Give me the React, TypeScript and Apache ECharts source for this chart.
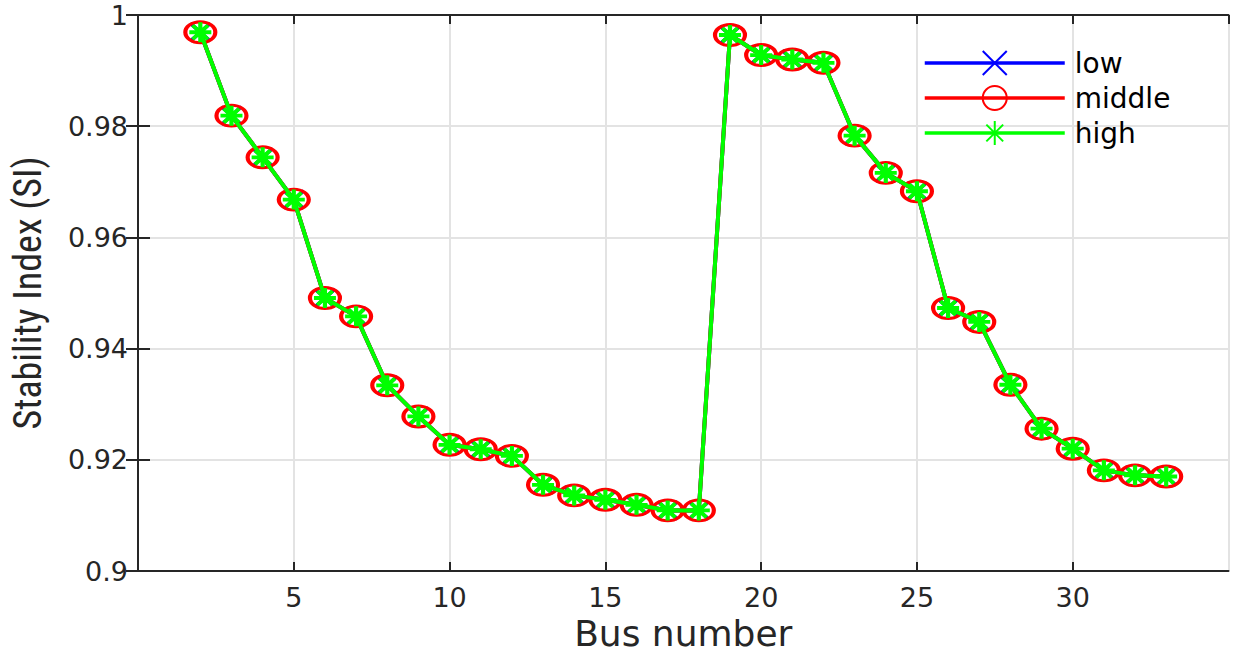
import React, { useEffect, useRef } from "react";
import * as echarts from "echarts";

const busNumbers = [2, 3, 4, 5, 6, 7, 8, 9, 10, 11, 12, 13, 14, 15, 16, 17, 18, 19, 20, 21, 22, 23, 24, 25, 26, 27, 28, 29, 30, 31, 32, 33];

const lowValues = [0.9969, 0.9819, 0.9744, 0.9668, 0.9491, 0.9458, 0.9334, 0.9278, 0.9227, 0.9219, 0.9207, 0.9155, 0.9136, 0.9128, 0.9119, 0.9109, 0.9109, 0.9964, 0.9928, 0.992, 0.9914, 0.9783, 0.9716, 0.9683, 0.9473, 0.9448, 0.9335, 0.9256, 0.922, 0.9181, 0.9172, 0.917];
const middleValues = [0.9969, 0.9819, 0.9744, 0.9668, 0.9491, 0.9458, 0.9334, 0.9278, 0.9227, 0.9219, 0.9207, 0.9155, 0.9136, 0.9128, 0.9119, 0.9109, 0.9109, 0.9964, 0.9928, 0.992, 0.9914, 0.9783, 0.9716, 0.9683, 0.9473, 0.9448, 0.9335, 0.9256, 0.922, 0.9181, 0.9172, 0.917];
const highValues = [0.9969, 0.9819, 0.9744, 0.9668, 0.9491, 0.9458, 0.9334, 0.9278, 0.9227, 0.9219, 0.9207, 0.9155, 0.9136, 0.9128, 0.9119, 0.9109, 0.9109, 0.9964, 0.9928, 0.992, 0.9914, 0.9783, 0.9716, 0.9683, 0.9473, 0.9448, 0.9335, 0.9256, 0.922, 0.9181, 0.9172, 0.917];

const seriesNames = ["low", "middle", "high"];
const xTitle = "Bus number";
const yTitle = "Stability Index (SI)";

const AXIS_COLOR = "#262626";
const GRID_COLOR = "#e3e3e3";
const TICK_FONT = "'DejaVu Sans', sans-serif";

const xMarker = "path://M0,0 L20,20 M0,20 L20,0";
const ellipseMarker = "path://M0,10 A15,10 0 1,1 30,10 A15,10 0 1,1 0,10 Z";
const starMarker = "path://M0,10 L20,10 M10,0 L10,20 M3,3 L17,17 M3,17 L17,3";

function pairs(values: number[]) {
  return busNumbers.map((b, i) => [b, values[i]]);
}

export default function App() {
  const ref = useRef<HTMLDivElement>(null);

  useEffect(() => {
    if (!ref.current) return;
    const chart = echarts.init(ref.current, null, { renderer: "svg" });

    const axisLine = { show: true, lineStyle: { color: AXIS_COLOR, width: 2 } };

    chart.setOption({
      animation: false,
      backgroundColor: "#ffffff",
      grid: {
        left: 138,
        top: 15,
        right: 5.5,
        bottom: 83,
        containLabel: false,
        outerBoundsMode: "none",
      },
      legend: {
        orient: "vertical",
        left: 923,
        top: 49,
        padding: 0,
        itemWidth: 140,
        itemHeight: 30,
        itemGap: 7,
        data: seriesNames,
        lineStyle: { width: 3.5 },
        textStyle: { fontFamily: TICK_FONT, fontSize: 28, color: "#000000", padding: [0, 0, 0, 5] },
      },
      xAxis: [
        {
          type: "value",
          min: 0,
          max: 35,
          interval: 5,
          position: "bottom",
          axisLine,
          axisTick: { show: true, inside: true, length: 9, lineStyle: { color: AXIS_COLOR, width: 2 } },
          axisLabel: {
            fontFamily: TICK_FONT,
            fontSize: 27,
            color: AXIS_COLOR,
            margin: 13,
            showMinLabel: false,
            showMaxLabel: false,
          },
          splitLine: { show: true, lineStyle: { color: GRID_COLOR, width: 2 } },
          name: xTitle,
          nameLocation: "middle",
          nameGap: 44,
          nameTextStyle: { fontFamily: TICK_FONT, fontSize: 36, color: AXIS_COLOR },
        },
        {
          type: "value",
          min: 0,
          max: 35,
          interval: 5,
          position: "top",
          axisLine,
          axisTick: { show: true, inside: true, length: 9, lineStyle: { color: AXIS_COLOR, width: 2 } },
          axisLabel: { show: false },
          splitLine: { show: false },
        },
      ],
      yAxis: [
        {
          type: "value",
          min: 0.9,
          max: 1,
          interval: 0.02,
          position: "left",
          axisLine,
          axisTick: { show: true, inside: true, length: 12, lineStyle: { color: AXIS_COLOR, width: 2 } },
          axisLabel: {
            fontFamily: TICK_FONT,
            fontSize: 27,
            color: AXIS_COLOR,
            margin: 10,
            formatter: (v: number) => String(Number(v.toFixed(2))),
          },
          splitLine: { show: true, lineStyle: { color: GRID_COLOR, width: 2 } },
          name: yTitle,
          nameLocation: "middle",
          nameGap: 91,
          nameTextStyle: {
            fontFamily: "'Liberation Sans Narrow', 'Roboto Condensed', 'Liberation Sans', sans-serif",
            fontSize: 38,
            color: AXIS_COLOR,
          },
        },
        {
          type: "value",
          min: 0.9,
          max: 1,
          interval: 0.02,
          position: "right",
          axisLine,
          axisTick: { show: true, inside: true, length: 12, lineStyle: { color: AXIS_COLOR, width: 2 } },
          axisLabel: { show: false },
          splitLine: { show: false },
        },
      ],
      series: [
        {
          name: seriesNames[0],
          type: "line",
          data: pairs(lowValues),
          symbol: xMarker,
          symbolSize: [20, 18],
          lineStyle: { color: "#0000ff", width: 4 },
          itemStyle: { color: "rgba(0,0,0,0)", borderColor: "#0000ff", borderWidth: 3.5 },
          z: 2,
        },
        {
          name: seriesNames[1],
          type: "line",
          data: pairs(middleValues),
          symbol: ellipseMarker,
          symbolSize: [30, 21],
          lineStyle: { color: "#ff0000", width: 4 },
          itemStyle: { color: "rgba(0,0,0,0)", borderColor: "#ff0000", borderWidth: 3.5 },
          z: 3,
        },
        {
          name: seriesNames[2],
          type: "line",
          data: pairs(highValues),
          symbol: starMarker,
          symbolSize: [22, 20],
          lineStyle: { color: "#00ff00", width: 4 },
          itemStyle: { color: "rgba(0,0,0,0)", borderColor: "#00ff00", borderWidth: 4 },
          z: 4,
        },
      ],
    });

    return () => chart.dispose();
  }, []);

  return (
    <div
      ref={ref}
      style={{ position: "absolute", left: 0, top: 0, width: 1234, height: 654 }}
    />
  );
}
